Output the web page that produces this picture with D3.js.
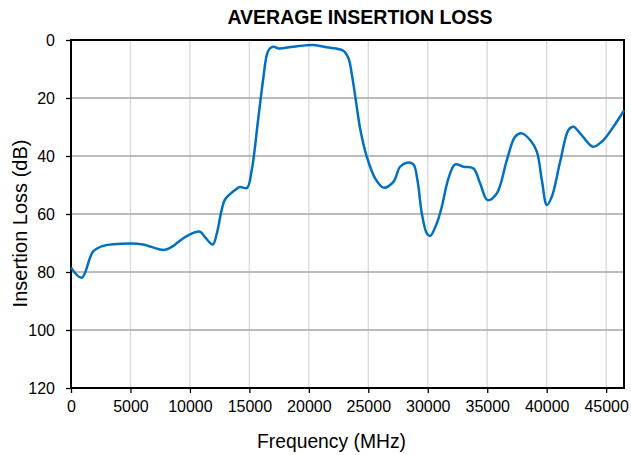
<!DOCTYPE html>
<html><head><meta charset="utf-8">
<script src="https://cdn.jsdelivr.net/npm/d3@7"></script>
<style>body{margin:0;background:#fff;}svg{display:block;font-family:"Liberation Sans",Arial,sans-serif;}</style>
</head><body>
<svg id="c" width="631" height="455"></svg>
<script>
const freq = [0,900,1850,2700,5000,6060,7770,8330,9730,10850,11270,11920,12250,12670,12950,13800,14200,14800,15200,15730,16150,16460,16680,17020,17440,18700,20380,21500,22900,23330,23600,24030,24310,24870,25570,26270,27110,27670,28240,28790,29130,29500,29920,30200,30760,31180,31740,32300,33000,33840,34400,35020,35800,36650,37350,37910,38610,39170,39590,40010,40430,41130,41830,42250,42810,43650,43930,44770,45610,46500];
const loss = [78.5,82,73,71,70.2,70.5,72.4,71.7,67.6,66.1,68,70.5,66.9,58.6,55,51.7,50.7,51,44.8,27.6,13.8,5.2,3.1,2.3,2.9,2.3,1.7,2.5,3.7,6.3,11.5,23,30.5,40.2,47.7,50.9,48.9,43.7,42.3,42.9,48.3,59.8,66.7,67.6,63.2,57.5,47.7,42.9,43.7,44.3,49.4,55.2,52.9,41.4,33.3,32.2,34.5,38.5,48.3,56.9,54,42,31,29.9,32.2,36.2,36.8,34.5,29.9,24.3];
const xTicks = [0,5000,10000,15000,20000,25000,30000,35000,40000,45000];
const yTicks = [0,20,40,60,80,100,120];
const title = "AVERAGE INSERTION LOSS";
const xLabel = "Frequency (MHz)";
const yLabel = "Insertion Loss (dB)";

const svg = d3.select("#c");
const L=71, R=624, T=40, B=388;
const x = d3.scaleLinear().domain([0,46500]).range([L,R]);
const y = d3.scaleLinear().domain([0,120]).range([T,B]);

// vertical grid
svg.append("g").selectAll("line").data(xTicks.filter(d=>d>0)).join("line")
  .attr("x1",d=>x(d)).attr("x2",d=>x(d)).attr("y1",T).attr("y2",B)
  .attr("stroke","#d9d9d9").attr("stroke-width",1.3);
// horizontal grid
svg.append("g").selectAll("line").data(yTicks.filter(d=>d>0&&d<120)).join("line")
  .attr("x1",L).attr("x2",R).attr("y1",d=>y(d)).attr("y2",d=>y(d))
  .attr("stroke","#a6a6a6").attr("stroke-width",1.5);

// frame
svg.append("rect").attr("x",L).attr("y",T).attr("width",R-L).attr("height",B-T)
  .attr("fill","none").attr("stroke","#000").attr("stroke-width",2);

// axes
const xAxis = d3.axisBottom(x).tickValues(xTicks).tickSize(5).tickPadding(8).tickFormat(d3.format("d"));
const gx = svg.append("g").attr("transform",`translate(0,${B})`).call(xAxis);
gx.select(".domain").remove();
gx.selectAll("text").attr("font-size",16).attr("fill","#000").attr("font-family","Liberation Sans, Arial, sans-serif");
gx.selectAll("line").attr("stroke","#000").attr("stroke-width",1.3);

const yAxis = d3.axisLeft(y).tickValues(yTicks).tickSize(5).tickPadding(11);
const gy = svg.append("g").attr("transform",`translate(${L},0)`).call(yAxis);
gy.select(".domain").remove();
gy.selectAll("text").attr("font-size",16).attr("fill","#000").attr("font-family","Liberation Sans, Arial, sans-serif");
gy.selectAll("line").attr("stroke","#000").attr("stroke-width",1.3);

// line
const data = freq.map((f,i)=>({f, v:loss[i]}));
svg.append("path").datum(data)
  .attr("d", d3.line().x(d=>x(d.f)).y(d=>y(d.v)).curve(d3.curveCatmullRom.alpha(0.5)))
  .attr("fill","none").attr("stroke","#0070c0").attr("stroke-width",2.5).attr("stroke-linejoin","round");

// title & labels
svg.append("text").attr("x",360).attr("y",24).attr("text-anchor","middle")
  .attr("font-size",19.5).attr("font-weight","bold").text(title);
svg.append("text").attr("x",331.5).attr("y",448).attr("text-anchor","middle")
  .attr("font-size",19.3).text(xLabel);
svg.append("text").attr("transform","translate(27,223.5) rotate(-90)").attr("text-anchor","middle")
  .attr("font-size",20).text(yLabel);
</script>
</body></html>
